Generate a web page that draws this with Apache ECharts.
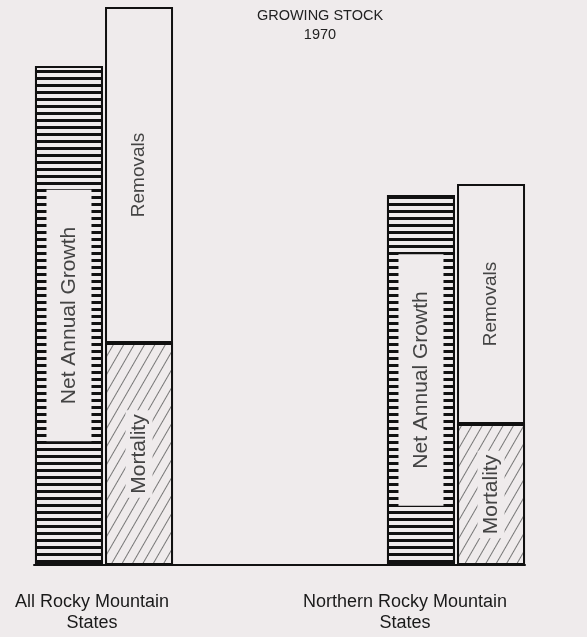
<!DOCTYPE html>
<html>
<head>
<meta charset="utf-8">
<script src="https://cdn.jsdelivr.net/npm/echarts@6/dist/echarts.min.js"></script>
<style>
html,body{margin:0;padding:0;background:#efebec;}
#chart{width:587px;height:637px;}
</style>
</head>
<body>
<div id="chart"></div>
<script>
// ---- data (relative heights) ----
const categories = ['All Rocky Mountain\nStates', 'Northern Rocky Mountain\nStates'];
const netAnnualGrowth = [499, 370];
const mortality = [222, 141];
const removals = [336, 240];
const titleLines = ['GROWING STOCK', '1970'];
const seriesNames = ['Net Annual Growth', 'Mortality', 'Removals'];

const bg = '#efebec';
const font = '"Liberation Sans", Arial, Helvetica, sans-serif';

const chart = echarts.init(document.getElementById('chart'), null, {renderer: 'canvas'});

const option = {
  backgroundColor: bg,
  animation: false,
  textStyle: {fontFamily: font},
  title: {
    text: titleLines.join('\n'),
    left: 315,
    top: 1,
    textAlign: 'center',
    textStyle: {fontSize: 14.5, fontWeight: 500, color: '#222', lineHeight: 19, fontFamily: font}
  },
  grid: [
    {left: 104, right: 131, top: 5, bottom: 72},
    {left: 92, right: 182, top: 5, bottom: 72},
    {left: 34, right: 62, top: 5, bottom: 72}
  ],
  xAxis: [
    {type: 'category', gridIndex: 0, data: categories, boundaryGap: false,
     axisLine: {show: false}, axisTick: {show: false}, axisLabel: {show: false}},
    {type: 'category', gridIndex: 1, data: categories, boundaryGap: false,
     axisLine: {show: false}, axisTick: {show: false},
     axisLabel: {show: true, interval: 0, margin: 27, fontSize: 18, lineHeight: 21, color: '#1a1a1a', fontFamily: font}},
    {type: 'value', gridIndex: 2, min: 0, max: 1,
     axisLine: {show: true, lineStyle: {color: '#111', width: 2}},
     axisTick: {show: false}, axisLabel: {show: false}, splitLine: {show: false}}
  ],
  yAxis: [
    {type: 'value', gridIndex: 0, min: 0, max: 560, show: false},
    {type: 'value', gridIndex: 1, min: 0, max: 1, show: false},
    {type: 'value', gridIndex: 2, min: 0, max: 1, show: false}
  ],
  series: [
    {
      type: 'bar', name: seriesNames[0], xAxisIndex: 0, yAxisIndex: 0,
      data: netAnnualGrowth, barWidth: 68, barGap: '3%',
      itemStyle: {
        color: bg, borderColor: '#111', borderWidth: 2,
        decal: {symbol: 'rect', symbolSize: 1, dashArrayX: [1, 0], dashArrayY: [3, 4], color: '#111', rotation: 0}
      },
      label: {
        show: true, position: 'inside', rotate: 90, formatter: '{a}',
        fontSize: 21, lineHeight: 21, color: '#444', fontFamily: font,
        backgroundColor: bg, padding: [12, 37, 12, 37],
        align: 'center', verticalAlign: 'middle'
      }
    },
    {
      type: 'bar', name: seriesNames[1], xAxisIndex: 0, yAxisIndex: 0, stack: 'total',
      data: mortality, barWidth: 68,
      itemStyle: {
        color: bg, borderColor: '#111', borderWidth: 2,
        decal: {symbol: 'rect', symbolSize: 1, dashArrayX: [1, 0], dashArrayY: [1, 8], color: '#777', rotation: -Math.PI / 3}
      },
      label: {
        show: true, position: 'inside', rotate: 90, formatter: '{a}',
        fontSize: 21, lineHeight: 21, color: '#444', fontFamily: font,
        backgroundColor: bg, padding: [3, 4, 3, 4],
        align: 'center', verticalAlign: 'middle'
      }
    },
    {
      type: 'bar', name: seriesNames[2], xAxisIndex: 0, yAxisIndex: 0, stack: 'total',
      data: removals, barWidth: 68,
      itemStyle: {color: bg, borderColor: '#111', borderWidth: 2},
      label: {
        show: true, position: 'inside', rotate: 90, formatter: '{a}',
        fontSize: 19, lineHeight: 20, color: '#444', fontFamily: font,
        align: 'center', verticalAlign: 'middle'
      }
    }
  ]
};
chart.setOption(option);
</script>
</body>
</html>
